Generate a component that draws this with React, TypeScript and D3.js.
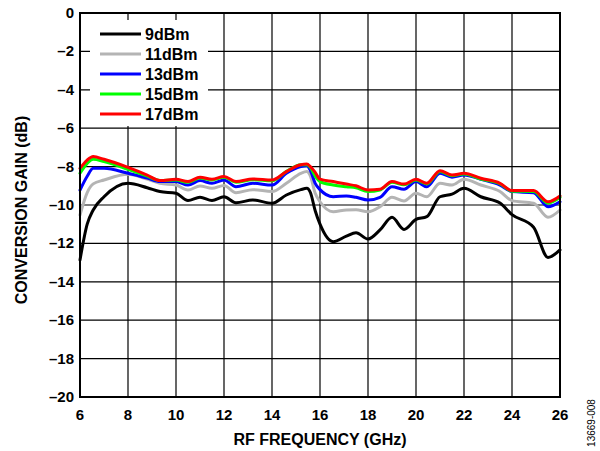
import React from "react";
import * as d3 from "d3";

const freqs = [6, 6.3, 6.55, 7, 8, 8.8, 9.33, 10, 10.5, 11, 11.5, 12, 12.5, 13.2, 14, 14.6, 15.2, 15.45, 15.6, 15.8, 16, 16.55, 17.1, 17.5, 18, 18.5, 19, 19.5, 20, 20.45, 21, 21.5, 22, 22.7, 23.5, 24, 24.9, 25.5, 26];

const gain9 = [-12.86, -11.0, -10.26, -9.57, -8.87, -9.1, -9.3, -9.39, -9.77, -9.6, -9.77, -9.57, -9.88, -9.74, -9.91, -9.48, -9.2, -9.13, -9.35, -10.3, -11.0, -11.91, -11.62, -11.44, -11.77, -11.3, -10.64, -11.27, -10.75, -10.61, -9.57, -9.43, -9.13, -9.57, -9.9, -10.5, -11.16, -12.73, -12.34];
const gain11 = [-10.52, -9.35, -8.9, -8.7, -8.4, -8.65, -8.87, -8.96, -9.22, -9.01, -9.13, -8.98, -9.36, -9.2, -9.3, -8.87, -8.35, -8.26, -8.5, -9.39, -9.83, -10.35, -10.26, -10.25, -10.35, -10.09, -9.6, -9.79, -9.39, -9.57, -8.87, -8.96, -8.66, -8.96, -9.3, -9.77, -9.91, -10.64, -10.26];
const gain13 = [-9.22, -8.5, -8.09, -8.09, -8.35, -8.6, -8.78, -8.78, -8.96, -8.73, -8.87, -8.7, -9.05, -8.87, -8.96, -8.35, -8.0, -7.95, -8.2, -8.87, -9.2, -9.57, -9.53, -9.6, -9.74, -9.6, -9.05, -9.18, -8.78, -9.05, -8.35, -8.55, -8.44, -8.66, -8.96, -9.3, -9.36, -10.09, -9.83];
const gain15 = [-8.35, -7.83, -7.62, -7.74, -8.14, -8.5, -8.73, -8.7, -8.82, -8.6, -8.7, -8.56, -8.82, -8.68, -8.74, -8.25, -7.9, -7.9, -8.05, -8.5, -8.78, -8.96, -9.05, -9.1, -9.3, -9.22, -8.82, -8.95, -8.7, -8.9, -8.25, -8.48, -8.38, -8.65, -8.9, -9.28, -9.3, -9.9, -9.6];
const gain17 = [-8.09, -7.66, -7.48, -7.62, -8.04, -8.44, -8.73, -8.66, -8.78, -8.55, -8.66, -8.52, -8.78, -8.64, -8.7, -8.26, -7.9, -7.87, -8.0, -8.3, -8.65, -8.78, -8.91, -9.0, -9.22, -9.18, -8.78, -8.91, -8.66, -8.87, -8.21, -8.44, -8.35, -8.61, -8.87, -9.25, -9.25, -9.83, -9.53];

const seriesNames = ["9dBm", "11dBm", "13dBm", "15dBm", "17dBm"];
const seriesColors = ["#000000", "#b4b4b4", "#0000ff", "#00ff00", "#ff0000"];
const seriesValues = [gain9, gain11, gain13, gain15, gain17];

const xTicks = [6, 8, 10, 12, 14, 16, 18, 20, 22, 24, 26];
const yTicks = [0, -2, -4, -6, -8, -10, -12, -14, -16, -18, -20];

const FONT = "'Liberation Sans', Arial, sans-serif";

export default function App() {
  const left = 80, right = 560, top = 13, bottom = 397;
  const x = d3.scaleLinear().domain([6, 26]).range([left, right]);
  const y = d3.scaleLinear().domain([-20, 0]).range([bottom, top]);
  const line = d3
    .line<number>()
    .x((_, i) => x(freqs[i]))
    .y((v) => y(v))
    .curve(d3.curveMonotoneX);

  const fmt = (v: number) => (v < 0 ? "\u2013" + Math.abs(v) : String(v));

  return (
    <svg width={600} height={451} style={{ position: "absolute", left: 0, top: 0, background: "#fff" }}>
      <rect x={0} y={0} width={600} height={451} fill="#fff" />
      {/* grid */}
      {xTicks.slice(1, -1).map((t) => (
        <line key={"gx" + t} x1={x(t)} x2={x(t)} y1={top} y2={bottom} stroke="#000" strokeWidth={1.2} />
      ))}
      {yTicks.slice(1, -1).map((t) => (
        <line key={"gy" + t} x1={left} x2={right} y1={y(t)} y2={y(t)} stroke="#000" strokeWidth={1.2} />
      ))}
      {/* legend background */}
      <rect x={90} y={20} width={118} height={106} fill="#fff" />
      {/* series */}
      {seriesValues.map((vals, i) => (
        <path key={seriesNames[i]} d={line(vals) || ""} fill="none" stroke={seriesColors[i]} strokeWidth={3} strokeLinejoin="round" strokeLinecap="round" />
      ))}
      {/* frame */}
      <rect x={left} y={top} width={right - left} height={bottom - top} fill="none" stroke="#000" strokeWidth={2} />
      {/* legend */}
      {seriesNames.map((n, i) => (
        <g key={"lg" + n}>
          <line x1={100} x2={141} y1={34 + i * 20} y2={34 + i * 20} stroke={seriesColors[i]} strokeWidth={3} />
          <text x={145} y={34 + i * 20 + 6} fontFamily={FONT} fontWeight="bold" fontSize={16} fill="#000">
            {n}
          </text>
        </g>
      ))}
      {/* y tick labels */}
      {yTicks.map((t) => (
        <text key={"yt" + t} x={74} y={y(t) + 5} textAnchor="end" fontFamily={FONT} fontWeight="bold" fontSize={15}>
          {fmt(t)}
        </text>
      ))}
      {/* x tick labels */}
      {xTicks.map((t) => (
        <text key={"xt" + t} x={x(t)} y={420} textAnchor="middle" fontFamily={FONT} fontWeight="bold" fontSize={15}>
          {t}
        </text>
      ))}
      <text x={(left + right) / 2} y={445} textAnchor="middle" fontFamily={FONT} fontWeight="bold" fontSize={16}>
        RF FREQUENCY (GHz)
      </text>
      <text
        transform={`translate(27, 210) rotate(-90)`}
        textAnchor="middle"
        fontFamily={FONT}
        fontWeight="bold"
        fontSize={16}
      >
        CONVERSION GAIN (dB)
      </text>
      <text transform="translate(595, 423) rotate(-90)" textAnchor="middle" fontFamily={FONT} fontSize={10}>
        13669-008
      </text>
    </svg>
  );
}
